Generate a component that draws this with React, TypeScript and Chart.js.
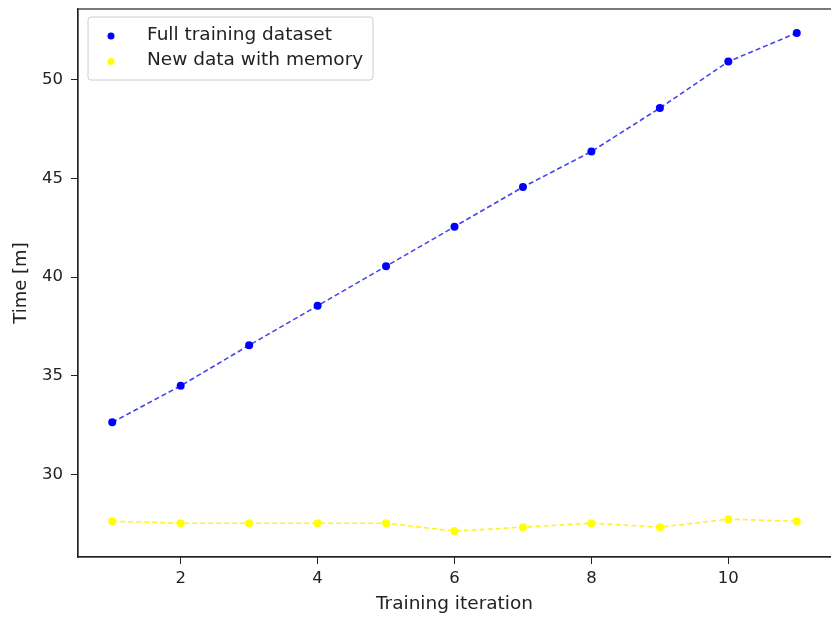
import React, { useEffect, useRef } from "react";
import { Chart, registerables } from "chart.js";

Chart.register(...registerables);

const iterations = [1, 2, 3, 4, 5, 6, 7, 8, 9, 10, 11];
const fullTraining = [32.65, 34.5, 36.55, 38.55, 40.55, 42.55, 44.55, 46.35, 48.55, 50.9, 52.35];
const newWithMemory = [27.65, 27.55, 27.55, 27.55, 27.55, 27.15, 27.35, 27.55, 27.35, 27.75, 27.65];
const xTicks = [2, 4, 6, 8, 10];
const yTicks = [30, 35, 40, 45, 50];
const seriesLabels = ["Full training dataset", "New data with memory"];

const FONT = "'DejaVu Sans', sans-serif";

export default function App() {
  const ref = useRef<HTMLCanvasElement | null>(null);

  useEffect(() => {
    if (!ref.current) return;
    const frame = {
      id: "frame",
      afterDraw(chart: any) {
        const { ctx, chartArea: a } = chart;
        ctx.save();
        ctx.strokeStyle = "#222";
        ctx.lineWidth = 1.2;
        ctx.strokeRect(a.left, a.top, a.right - a.left + 5, a.bottom - a.top);
        // legend
        const lx = 88, ly = 17, lw = 285, lh = 63;
        ctx.fillStyle = "rgba(255,255,255,0.85)";
        ctx.strokeStyle = "#cccccc";
        ctx.lineWidth = 1;
        ctx.beginPath();
        const r = 3;
        ctx.moveTo(lx + r, ly);
        ctx.lineTo(lx + lw - r, ly);
        ctx.quadraticCurveTo(lx + lw, ly, lx + lw, ly + r);
        ctx.lineTo(lx + lw, ly + lh - r);
        ctx.quadraticCurveTo(lx + lw, ly + lh, lx + lw - r, ly + lh);
        ctx.lineTo(lx + r, ly + lh);
        ctx.quadraticCurveTo(lx, ly + lh, lx, ly + lh - r);
        ctx.lineTo(lx, ly + r);
        ctx.quadraticCurveTo(lx, ly, lx + r, ly);
        ctx.closePath();
        ctx.fill();
        ctx.stroke();
        const colors = ["#0000ff", "#ffff00"];
        ctx.font = `18.5px ${FONT}`;
        ctx.textBaseline = "middle";
        seriesLabels.forEach((lab, i) => {
          const y = ly + 18 + i * 25.5;
          ctx.fillStyle = colors[i];
          ctx.beginPath();
          ctx.arc(111, y + 1, 3.5, 0, Math.PI * 2);
          ctx.fill();
          ctx.fillStyle = "#222";
          ctx.fillText(lab, 147, y);
        });
        ctx.restore();
      },
    };
    const chart = new Chart(ref.current, {
      type: "line",
      data: {
        labels: iterations,
        datasets: [
          {
            label: seriesLabels[0],
            data: iterations.map((x, i) => ({ x, y: fullTraining[i] })),
            borderColor: "rgba(20,20,230,0.8)",
            borderWidth: 1.6,
            borderDash: [5, 3],
            pointRadius: 4,
            pointBackgroundColor: "#0000ff",
            pointBorderWidth: 0,
            tension: 0,
          },
          {
            label: seriesLabels[1],
            data: iterations.map((x, i) => ({ x, y: newWithMemory[i] })),
            borderColor: "rgba(255,240,0,0.85)",
            borderWidth: 1.6,
            borderDash: [5, 3],
            pointRadius: 4,
            pointBackgroundColor: "#ffff00",
            pointBorderWidth: 0,
            tension: 0,
          },
        ],
      },
      options: {
        animation: false,
        responsive: true,
        maintainAspectRatio: false,
        layout: { autoPadding: false, padding: { top: 9, right: 0, left: 0, bottom: 0 } },
        plugins: { legend: { display: false }, tooltip: { enabled: false } },
        scales: {
          x: {
            type: "linear",
            min: 0.5,
            max: 11.5,
            afterBuildTicks: (s: any) => {
              s.ticks = xTicks.map((v) => ({ value: v }));
            },
            afterFit: (s: any) => {
              s.height = 63;
              s.paddingLeft = 0;
              s.paddingRight = 0;
            },
            grid: { display: true, drawOnChartArea: false, drawTicks: true, tickLength: 7, color: "#222" },
            border: { display: true, color: "#222", width: 1.2 },
            ticks: { color: "#222", font: { family: FONT, size: 16.5 }, padding: 5, maxRotation: 0 },
            title: { display: true, text: "Training iteration", color: "#222", font: { family: FONT, size: 18.5 }, padding: { top: 2, bottom: 5 } },
          },
          y: {
            type: "linear",
            min: 25.84,
            max: 53.56,
            afterBuildTicks: (s: any) => {
              s.ticks = yTicks.map((v) => ({ value: v }));
            },
            afterFit: (s: any) => {
              s.width = 78;
              s.paddingTop = 0;
              s.paddingBottom = 0;
            },
            grid: { display: true, drawOnChartArea: false, drawTicks: true, tickLength: 7, color: "#222" },
            border: { display: true, color: "#222", width: 1.2 },
            ticks: { color: "#222", font: { family: FONT, size: 16.5 }, padding: 8 },
            title: { display: true, text: "Time [m]", color: "#222", font: { family: FONT, size: 18 }, padding: { top: 11, bottom: 4 } },
          },
        },
      },
      plugins: [frame],
    } as any);
    return () => chart.destroy();
  }, []);

  return (
    <div style={{ position: "absolute", left: 0, top: 0, width: 831, height: 620, background: "#fff" }}>
      <canvas ref={ref} />
    </div>
  );
}
